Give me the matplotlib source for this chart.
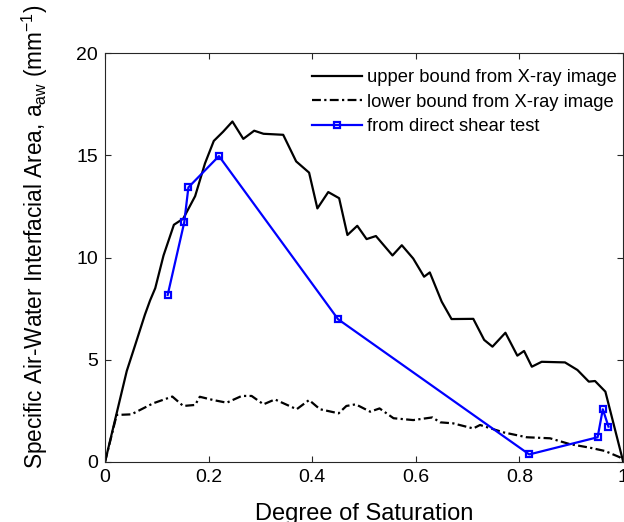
import matplotlib
matplotlib.use("Agg")
import matplotlib.pyplot as plt

plt.rcParams["font.family"] = ["Liberation Sans", "DejaVu Sans"]
plt.rcParams["mathtext.fontset"] = "custom"
plt.rcParams["mathtext.rm"] = "Liberation Sans"
plt.rcParams["mathtext.it"] = "Liberation Sans:italic"

# upper bound from X-ray image
upper_x = [0, 0.042, 0.058, 0.077, 0.087, 0.097, 0.113, 0.133, 0.151, 0.174,
           0.193, 0.210, 0.228, 0.246, 0.267, 0.288, 0.306, 0.344, 0.369, 0.394,
           0.410, 0.431, 0.452, 0.468, 0.487, 0.505, 0.523, 0.555, 0.573, 0.595,
           0.616, 0.627, 0.650, 0.669, 0.711, 0.732, 0.748, 0.773, 0.796, 0.809,
           0.824, 0.843, 0.888, 0.912, 0.934, 0.946, 0.966, 1.0]
upper_y = [0, 4.45, 5.7, 7.2, 7.9, 8.5, 10.1, 11.6, 11.9, 13.0,
           14.6, 15.7, 16.15, 16.65, 15.8, 16.2, 16.05, 16.0, 14.7, 14.15,
           12.4, 13.2, 12.9, 11.1, 11.55, 10.9, 11.05, 10.1, 10.6, 9.95,
           9.06, 9.27, 7.84, 6.99, 7.0, 5.97, 5.64, 6.32, 5.2, 5.43,
           4.66, 4.9, 4.87, 4.5, 3.93, 3.96, 3.44, 0.05]

# lower bound from X-ray image
lower_x = [0, 0.0225, 0.051, 0.093, 0.130, 0.151, 0.174, 0.183, 0.209, 0.235,
           0.264, 0.283, 0.306, 0.328, 0.370, 0.394, 0.415, 0.451, 0.466, 0.484,
           0.512, 0.530, 0.557, 0.595, 0.632, 0.647, 0.672, 0.711, 0.724, 0.769,
           0.814, 0.859, 0.898, 0.936, 0.965, 0.994, 1.0]
lower_y = [0, 2.3, 2.33, 2.87, 3.2, 2.74, 2.79, 3.19, 3.03, 2.9,
           3.23, 3.23, 2.82, 3.06, 2.58, 3.03, 2.58, 2.38, 2.74, 2.82,
           2.46, 2.62, 2.14, 2.05, 2.18, 1.94, 1.89, 1.64, 1.81, 1.45,
           1.21, 1.16, 0.87, 0.70, 0.54, 0.23, 0.05]

# direct shear test
shear_x = [0.121, 0.153, 0.161, 0.220, 0.450, 0.819, 0.951, 0.961, 0.972]
shear_y = [8.17, 11.72, 13.43, 14.96, 6.98, 0.37, 1.21, 2.58, 1.73]

x_ticks = [0, 0.2, 0.4, 0.6, 0.8, 1]
x_labels = ["0", "0.2", "0.4", "0.6", "0.8", "1"]
y_ticks = [0, 5, 10, 15, 20]

fig = plt.figure(figsize=(6.24, 5.22), dpi=100)
ax = fig.add_axes([105 / 624, 1 - 462 / 522, 518 / 624, 409 / 522])

ax.plot(upper_x, upper_y, color="black", lw=1.6,
        label="upper bound from X-ray image")
ax.plot(lower_x, lower_y, color="black", lw=1.6, dashes=(4, 1.5, 1, 1.5),
        label="lower bound from X-ray image")
ax.plot(shear_x, shear_y, color="blue", lw=1.6, marker="s", markersize=5,
        markerfacecolor="none", markeredgewidth=1.6,
        label="from direct shear test")

ax.set_xlim(0, 1)
ax.set_ylim(0, 20)
ax.set_xticks(x_ticks)
ax.set_xticklabels(x_labels)
ax.set_yticks(y_ticks)
ax.tick_params(direction="in", top=True, right=True, length=4,
               labelsize=14, color="#262626", pad=5)
for s in ax.spines.values():
    s.set_color("#262626")
    s.set_linewidth(0.8)

ax.set_xlabel("Degree of Saturation", fontsize=17, labelpad=12)
ax.set_ylabel(r"Specific Air-Water Interfacial Area, a$_{\mathrm{aw}}$ (mm$^{-1}$)",
              fontsize=16.3)
# ylabel anchor is its right edge
ax.yaxis.set_label_coords(-0.107, 0.55)

ax.legend(loc="upper right", bbox_to_anchor=(617 / 624, 1 - 69 / 522),
          bbox_transform=fig.transFigure, frameon=False, fontsize=13.2,
          handlelength=2.7, handletextpad=0.3, labelspacing=0.42,
          borderaxespad=0, borderpad=0)

fig.savefig("out.png", dpi=100)
